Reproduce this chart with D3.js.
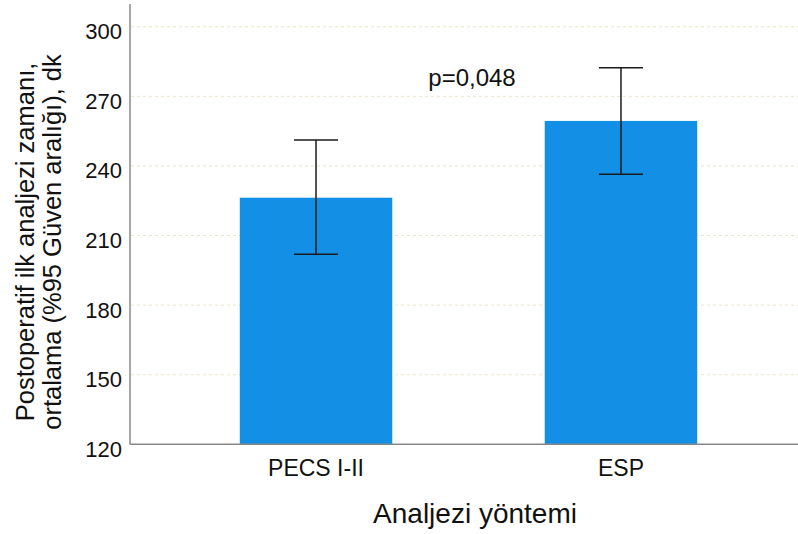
<!DOCTYPE html>
<html>
<head>
<meta charset="utf-8">
<script src="https://cdn.jsdelivr.net/npm/d3@7"></script>
<style>
  body { margin: 0; background: #fff; }
  svg { font-family: "Liberation Sans", Arial, sans-serif; }
</style>
</head>
<body>
<svg id="chart" width="798" height="534"></svg>
<script>
// data
const groups = ["PECS I-II", "ESP"];
const means = [226.3, 259.4];
const lower = [201.9, 236.4];
const upper = [251.2, 282.3];
const yTicks = [120, 150, 180, 210, 240, 270, 300];

const svg = d3.select("#chart");

const plotLeft = 130, plotBottom = 444.3, plotTop = 4;

const y = d3.scaleLinear().domain([120, 309.8]).range([plotBottom, plotTop]);
const x = d3.scaleBand().domain(groups)
  .range([plotLeft, 807])
  .paddingInner(0.5)
  .paddingOuter(0.36);

// gridlines
svg.append("g")
  .selectAll("line")
  .data(yTicks.filter(d => d > 120))
  .enter()
  .append("line")
  .attr("x1", plotLeft + 1)
  .attr("x2", 798)
  .attr("y1", d => y(d))
  .attr("y2", d => y(d))
  .attr("stroke", "#ebe5c6")
  .attr("stroke-width", 1)
  .attr("stroke-dasharray", "3,3");

// bars
svg.append("g")
  .selectAll("rect")
  .data(groups)
  .enter()
  .append("rect")
  .attr("x", d => x(d))
  .attr("width", x.bandwidth())
  .attr("y", (d, i) => y(means[i]))
  .attr("height", (d, i) => plotBottom - y(means[i]))
  .attr("fill", "#138fe6");

// error bars
const eb = svg.append("g").attr("stroke", "#1a1a1a").attr("stroke-width", 1.5);
groups.forEach((g, i) => {
  const cx = x(g) + x.bandwidth() / 2;
  eb.append("line").attr("x1", cx).attr("x2", cx).attr("y1", y(upper[i])).attr("y2", y(lower[i]));
  eb.append("line").attr("x1", cx - 22).attr("x2", cx + 22).attr("y1", y(upper[i])).attr("y2", y(upper[i]));
  eb.append("line").attr("x1", cx - 22).attr("x2", cx + 22).attr("y1", y(lower[i])).attr("y2", y(lower[i]));
});

// axes
svg.append("line")
  .attr("x1", plotLeft).attr("x2", plotLeft)
  .attr("y1", plotTop).attr("y2", plotBottom)
  .attr("stroke", "#888").attr("stroke-width", 1.5);
svg.append("line")
  .attr("x1", plotLeft).attr("x2", 798)
  .attr("y1", plotBottom).attr("y2", plotBottom)
  .attr("stroke", "#888").attr("stroke-width", 1.5);

svg.append("g")
  .selectAll("text")
  .data(yTicks)
  .enter()
  .append("text")
  .attr("x", 122)
  .attr("y", d => y(d) + 12.5)
  .attr("text-anchor", "end")
  .style("font-size", "22px")
  .attr("fill", "#111")
  .text(d => d);

svg.append("g")
  .selectAll("text")
  .data(groups)
  .enter()
  .append("text")
  .attr("x", d => x(d) + x.bandwidth() / 2)
  .attr("y", 476)
  .attr("text-anchor", "middle")
  .style("font-size", "23px")
  .attr("fill", "#111")
  .text(d => d);

// p value note
svg.append("text")
  .attr("x", 472)
  .attr("y", 86)
  .attr("text-anchor", "middle")
  .style("font-size", "24px")
  .attr("fill", "#111")
  .text("p=0,048");

// axis titles
svg.append("text")
  .attr("x", 475)
  .attr("y", 523)
  .attr("text-anchor", "middle")
  .style("font-size", "28px")
  .attr("fill", "#111")
  .text("Analjezi yöntemi");

const yl = svg.append("text")
  .attr("transform", "translate(0,242) rotate(-90)")
  .attr("text-anchor", "middle")
  .style("font-size", "25.5px")
  .attr("fill", "#111");
yl.append("tspan").attr("x", 0).attr("y", 34).text("Postoperatif ilk analjezi zamanı,");
yl.append("tspan").attr("x", 0).attr("y", 61).text("ortalama (%95 Güven aralığı), dk");
</script>
</body>
</html>
